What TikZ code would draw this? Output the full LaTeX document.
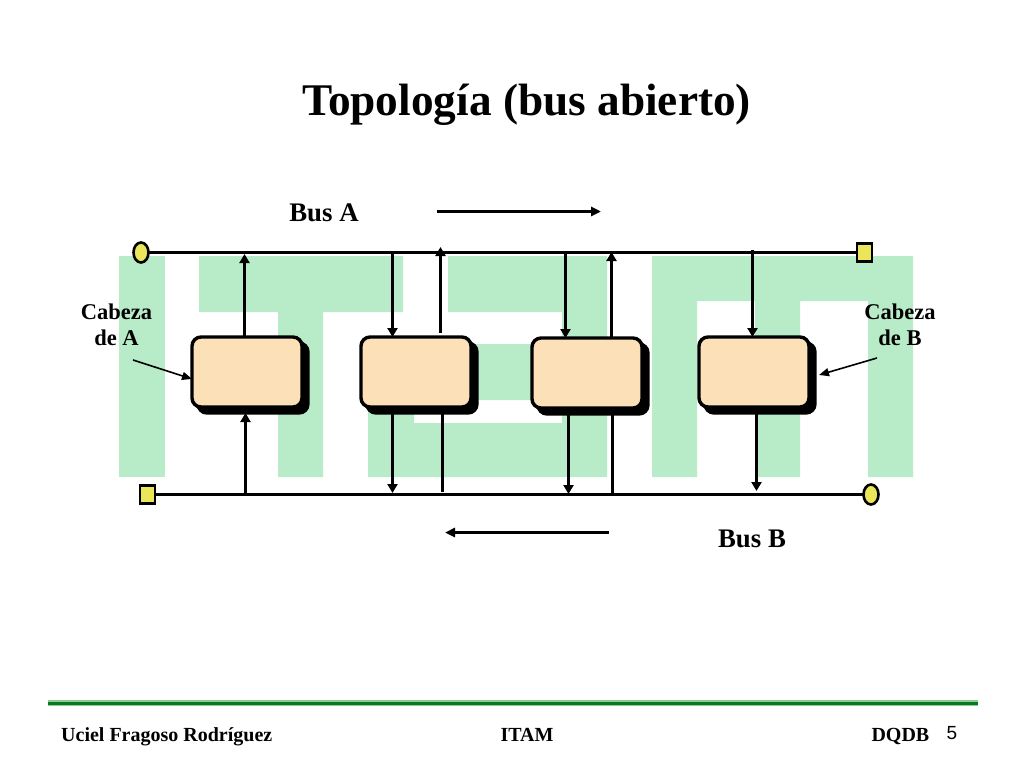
\documentclass[tikz,border=0pt]{standalone}
\usepackage{fontspec}
\setmainfont{Liberation Serif}
\newfontfamily\arialfont{Liberation Sans}
\usetikzlibrary{arrows.meta,shapes.geometric}
\definecolor{logogreen}{HTML}{B8EBC8}
\definecolor{boxfill}{HTML}{FBE0B8}
\definecolor{endfill}{HTML}{EBE55A}
\definecolor{ruledark}{HTML}{0B7A1E}
\definecolor{rulelight}{HTML}{8CCB94}
\tikzset{
  x=1pt,y=-1pt,
  logo/.style={fill=logogreen,draw=none},
  station/.style={draw=black,line width=3.4pt,fill=boxfill,rounded corners=9pt,minimum width=110pt,minimum height=70pt,inner sep=0pt,outer sep=0pt},
  stationshadow/.style={draw=black,line width=3.4pt,fill=black,rounded corners=9pt,minimum width=110pt,minimum height=70pt,inner sep=0pt,outer sep=0pt},
  busline/.style={line width=3pt,black},
  tap/.style={line width=3pt,black},
  taparrow/.style={tap,-{Triangle[length=9pt,width=10pt]}},
  pointer/.style={line width=1.6pt,black,-{Triangle[length=10pt,width=8pt]}},
  dirarrow/.style={line width=2.5pt,black,-{Triangle[length=10pt,width=9pt]}},
  headround/.style={draw=black,line width=2.6pt,fill=endfill,ellipse,minimum width=15pt,minimum height=20pt,inner sep=0pt,outer sep=0pt},
  headsquare/.style={draw=black,line width=2.6pt,fill=endfill,rectangle,minimum width=15pt,minimum height=18pt,inner sep=0pt,outer sep=0pt},
  title/.style={font=\fontsize{45.3}{48}\selectfont\bfseries,inner sep=0pt},
  buslabel/.style={font=\fontsize{26.8}{30}\selectfont\bfseries,inner sep=0pt},
  headlabel/.style={font=\fontsize{22.5}{26.5}\selectfont\bfseries,align=center,inner sep=0pt},
  footer/.style={font=\fontsize{20}{22}\selectfont\bfseries,inner sep=0pt},
}
\begin{document}
\begin{tikzpicture}
\useasboundingbox (0,0) rectangle (1024,768);
\fill[white] (0,0) rectangle (1024,768);
% ITAM logo
\fill[logo] (119,256) rectangle (165,477);
\fill[logo] (199,256) -- (403,256) -- (403,312) -- (323,312) -- (323,477) -- (278,477) -- (278,312) -- (199,312) -- cycle;
\fill[logo] (448,256) -- (607,256) -- (607,477) -- (368,477) -- (368,344) -- (562,344) -- (562,400) -- (414,400) -- (414,423) -- (562,423) -- (562,312) -- (448,312) -- cycle;
\fill[logo] (652,477) -- (652,256) -- (913,256) -- (913,477) -- (868,477) -- (868,301) -- (800,301) -- (800,477) -- (755,477) -- (755,301) -- (697,301) -- (697,477) -- cycle;
% text
\node[title] (ttl) at (526.5,104.5) {Topología (bus abierto)};
\node[buslabel] (labA) at (324,213) {Bus A};
\node[buslabel] (labB) at (752,539) {Bus B};
\node[headlabel] (cabA) at (116.5,325) {Cabeza\\de A};
\node[headlabel] (cabB) at (900,325) {Cabeza\\de B};
% shadows and stations
\node[stationshadow] (s1) at (253,378) {};
\node[stationshadow] (s2) at (422,378) {};
\node[stationshadow] (s3) at (593,379) {};
\node[stationshadow] (s4) at (760,378) {};
\node[station] (b1) at (247,372) {};
\node[station] (b2) at (416,372) {};
\node[station] (b3) at (587,373) {};
\node[station] (b4) at (754,372) {};
% bus ends
\node[headround] (hA) at (141,252.5) {};
\node[headsquare] (tA) at (864.5,252.5) {};
\node[headsquare] (tB) at (147.5,494.5) {};
\node[headround] (hB) at (871,494.5) {};
\draw[busline] (hA) -- (tA);
\draw[busline] (tB) -- (hB);
% tap coordinates
\coordinate (a1) at (244.5,254);
\coordinate (a2) at (392.5,252);
\coordinate (a3) at (440.5,247);
\coordinate (a3s) at (440.5,333);
\coordinate (a4) at (565.5,252);
\coordinate (a5) at (611.5,252);
\coordinate (a6) at (752.5,250);
\coordinate (c1) at (245.5,495);
\coordinate (c2) at (392.5,493);
\coordinate (c3) at (442.5,492);
\coordinate (c4) at (568.5,494);
\coordinate (c5) at (612.5,495);
\coordinate (c6) at (756.5,491);
\draw[taparrow] (b1.north -| a1) -- (a1);
\draw[taparrow] (a2) -- (b2.north -| a2);
\draw[taparrow] (a3s) -- (a3);
\draw[taparrow] (a4) -- (b3.north -| a4);
\draw[taparrow] (b3.north -| a5) -- (a5);
\draw[taparrow] (a6) -- (b4.north -| a6);
\draw[taparrow] (c1) -- (s1.south -| c1);
\draw[taparrow] (s2.south -| c2) -- (c2);
\draw[tap] (c3) -- (s2.south -| c3);
\draw[taparrow] (s3.south -| c4) -- (c4);
\draw[tap] (c5) -- (s3.south -| c5);
\draw[taparrow] (s4.south -| c6) -- (c6);
% pointers
\coordinate (pA) at (133,360);
\coordinate (pB) at (877,358);
\draw[pointer] (pA) -- (b1.west |- 0,379);
\draw[pointer] (pB) -- ([xshift=4pt]s4.east |- 0,375);
% direction arrows
\coordinate (dA1) at (437,211.5);
\coordinate (dA2) at (601,211.5);
\coordinate (dB1) at (609,532.5);
\coordinate (dB2) at (445,532.5);
\draw[dirarrow] (dA1) -- (dA2);
\draw[dirarrow] (dB1) -- (dB2);
% footer
\fill[rulelight] (48,700) rectangle (978,706);
\fill[ruledark] (48,701.6) rectangle (978,704.6);
\node[footer,anchor=base west] (f1) at (61,741) {Uciel Fragoso Rodríguez};
\node[footer,anchor=base] (f2) at (527,741) {ITAM};
\node[footer,anchor=base east] (f3) at (929.5,741) {DQDB};
\node[font=\arialfont\fontsize{19}{22}\selectfont,inner sep=0pt,anchor=base] (f4) at (952,739) {5};
\end{tikzpicture}
\end{document}
